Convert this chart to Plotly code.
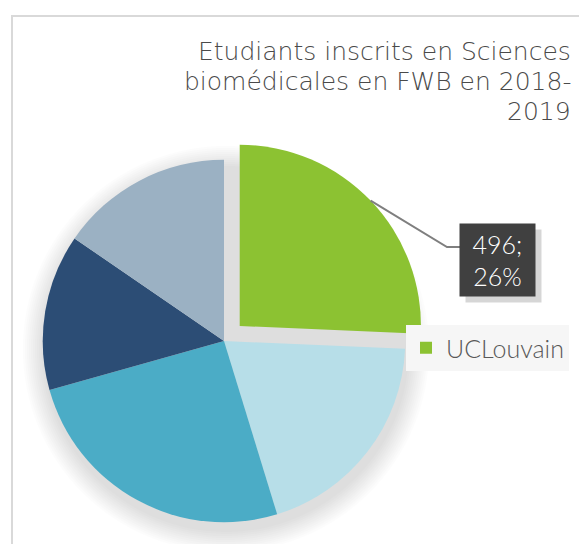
import math
import plotly.graph_objects as go

# Data
universities = ["UCLouvain", "ULB", "ULiège", "UMONS", "UNamur"]
students = [496, 378, 490, 269, 298]
colors = ["#8CC232", "#B7DEE8", "#4BACC6", "#2C4D75", "#9BB1C3"]
pulls = [0.12, 0, 0, 0, 0]
title_lines = ["Etudiants inscrits en Sciences", "biomédicales en FWB en 2018-", "2019"]
shown_label = "UCLouvain"

W, H = 579, 544
# pie placement (pixels)
cx, cy, half = 224, 341, 203

fig = go.Figure()

# soft shadow below the pie
r0 = half / (1 + max(pulls))
for dr in range(22, 0, -2):
    r = r0 + dr
    scx, scy = cx + 2, cy + 8
    fig.add_shape(type="circle", xref="paper", yref="paper", layer="below",
                  x0=(scx - r) / W, x1=(scx + r) / W,
                  y0=1 - (scy + r) / H, y1=1 - (scy - r) / H,
                  fillcolor="rgba(0,0,0,0.010)", line_width=0)

fig.add_trace(go.Pie(
    labels=universities, values=students, sort=False, direction="clockwise",
    rotation=0, pull=pulls, marker=dict(colors=colors, line=dict(width=0)),
    textinfo="none", hoverinfo="label+value+percent", showlegend=False,
    domain=dict(x=[(cx - half) / W, (cx + half) / W], y=[0, 1 - (cy - half) / H]),
))

# legend entry only for UCLouvain
fig.add_trace(go.Scatter(x=[None], y=[None], mode="markers", name=shown_label,
                         marker=dict(symbol="square", size=12, color=colors[0])))

# leader line from the pulled slice edge to the label box
total = sum(students)
pct = students[0] / total
ang = math.radians(pct * 360 / 2)
dist = r0 * (1 + pulls[0])
sx, sy = cx + dist * math.sin(ang), cy - dist * math.cos(ang)
bx, by = 447, 247
ex = 460
fig.add_shape(type="path", xref="paper", yref="paper",
              path=f"M {sx/W} {1-sy/H} L {bx/W} {1-by/H} L {ex/W} {1-by/H}",
              line=dict(color="#7F7F7F", width=2))

label_text = f"{students[0]};<br>{round(pct*100)}%"
lx, ly, bw, bh = 497, 260, 75, 72
# label shadow (blank box)
fig.add_annotation(x=lx / W, y=1 - ly / H, xref="paper", yref="paper",
                   xanchor="center", yanchor="middle",
                   text=" ", showarrow=False, xshift=6, yshift=-6,
                   width=bw, height=bh, font=dict(size=4),
                   bgcolor="rgba(0,0,0,0.16)", borderpad=0)
fig.add_annotation(x=lx / W, y=1 - ly / H, xref="paper", yref="paper",
                   xanchor="center", yanchor="middle",
                   text=label_text, showarrow=False, width=bw, height=bh,
                   font=dict(family="Lato", size=25, color="#FFFFFF", weight=300),
                   bgcolor="#404040", borderpad=0, align="center", valign="middle")

# title (one annotation per line for exact line spacing)
for i, line in enumerate(title_lines):
    fig.add_annotation(x=573 / W, y=1 - (35 + 30 * i) / H, xref="paper", yref="paper",
                       xanchor="right", yanchor="top", align="right", showarrow=False,
                       text=line,
                       font=dict(family="DejaVu Sans", size=25, color="#4A4A4A", weight=200))

# chart frame (cropped)
fig.add_shape(type="rect", xref="paper", yref="paper", layer="below",
              x0=12 / W, x1=1.2, y0=-0.2, y1=1 - 16 / H,
              line=dict(color="#D9D9D9", width=2), fillcolor="rgba(0,0,0,0)")

fig.update_layout(
    width=W, height=H, margin=dict(l=0, r=0, t=0, b=0, pad=0),
    paper_bgcolor="white", plot_bgcolor="rgba(0,0,0,0)",
    xaxis=dict(visible=False), yaxis=dict(visible=False),
    legend=dict(x=406 / W, y=1 - 325 / H, xanchor="left", yanchor="top",
                bgcolor="#F6F6F6",
                font=dict(family="Lato", size=25, color="#595959", weight=300),
                itemclick=False, itemdoubleclick=False),
    showlegend=True,
)

fig.write_html("out.html", config={"displayModeBar": False},
               post_script="document.body.style.margin='0';document.body.style.overflow='hidden';")
